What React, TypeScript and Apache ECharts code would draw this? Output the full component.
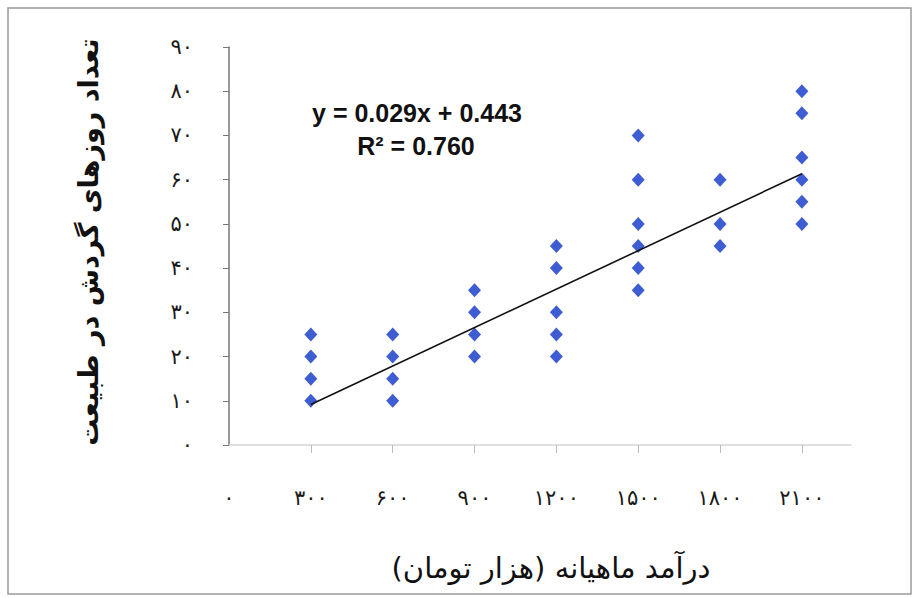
import React, { useEffect, useRef } from "react";
import * as echarts from "echarts";

// Monthly income (thousand toman) per respondent
const incomeX = [
  300, 300, 300, 300,
  600, 600, 600, 600,
  900, 900, 900, 900,
  1200, 1200, 1200, 1200, 1200,
  1500, 1500, 1500, 1500, 1500, 1500,
  1800, 1800, 1800,
  2100, 2100, 2100, 2100, 2100, 2100,
];
// Days spent outdoors in nature
const daysY = [
  25, 20, 15, 10,
  25, 20, 15, 10,
  35, 30, 25, 20,
  45, 40, 30, 25, 20,
  70, 60, 50, 45, 40, 35,
  60, 50, 45,
  80, 75, 65, 60, 55, 50,
];

const trendSlope = 0.029;
const trendIntercept = 0.443;
const trendRange = [300, 2100];

const xTickValues = [300, 600, 900, 1200, 1500, 1800, 2100];
const xLabelValues = [0, 300, 600, 900, 1200, 1500, 1800, 2100];
const yTickValues = [0, 10, 20, 30, 40, 50, 60, 70, 80, 90];

const equationText = "y = 0.029x + 0.443";
const r2Text = "R² = 0.760";
const xTitle = "درآمد ماهیانه (هزار تومان)";
const yTitle = "تعداد روزهای گردش در طبیعت";

const faDigits = "۰۱۲۳۴۵۶۷۸۹";
const toFa = (v: number) => String(v).replace(/\d/g, (d) => faDigits[+d]);

export default function App() {
  const ref = useRef<HTMLDivElement>(null);
  useEffect(() => {
    document.body.style.margin = "0";
    if (!ref.current) return;
    const chart = echarts.init(ref.current, null, { renderer: "svg" });
    const points = incomeX.map((x, i) => [x, daysY[i]]);
    const trend = trendRange.map((x) => [x, trendSlope * x + trendIntercept]);
    chart.setOption({
      animation: false,
      backgroundColor: "#ffffff",
      grid: { left: 229, top: 47, right: 70, bottom: 153, containLabel: false },
      xAxis: {
        type: "value",
        min: 0,
        max: 2280,
        splitLine: { show: false },
        axisLine: { show: true, lineStyle: { color: "#d4d4d4", width: 1.5 } },
        axisTick: {
          show: true,
          customValues: xTickValues,
          length: 8,
          lineStyle: { color: "#bdbdbd", width: 1 },
        },
        axisLabel: {
          customValues: xLabelValues,
          margin: 42,
          color: "#1a1a1a",
          fontSize: 21,
          fontFamily: "DejaVu Sans",
          formatter: (v: number) => toFa(v),
        },
      },
      yAxis: {
        type: "value",
        min: 0,
        max: 90,
        splitLine: { show: false },
        axisLine: { show: true, lineStyle: { color: "#777", width: 1.5 } },
        axisTick: {
          show: true,
          customValues: yTickValues,
          length: 6,
          lineStyle: { color: "#777", width: 1 },
        },
        axisLabel: {
          customValues: yTickValues,
          margin: 36,
          color: "#1a1a1a",
          fontSize: 21,
          fontFamily: "DejaVu Sans",
          formatter: (v: number) => toFa(v),
        },
      },
      series: [
        {
          type: "scatter",
          data: points,
          symbol: "diamond",
          symbolSize: [13, 14],
          itemStyle: { color: "#0f35c8" },
          z: 3,
        },
        {
          type: "line",
          data: trend,
          symbol: "none",
          lineStyle: { color: "#111", width: 1.6 },
          z: 4,
        },
      ],
      graphic: [
        {
          type: "rect",
          shape: { x: 8, y: 8, width: 903, height: 586 },
          style: { fill: "none", stroke: "#9a9a9a", lineWidth: 1.5 },
        },
        {
          type: "text",
          x: 417,
          y: 113,
          style: {
            text: equationText,
            fill: "#111",
            font: "bold 25px 'Liberation Sans Narrow', 'Liberation Sans', sans-serif",
            textAlign: "center",
            textVerticalAlign: "middle",
          },
        },
        {
          type: "text",
          x: 416,
          y: 146,
          style: {
            text: r2Text,
            fill: "#111",
            font: "bold 25px 'Liberation Sans Narrow', 'Liberation Sans', sans-serif",
            textAlign: "center",
            textVerticalAlign: "middle",
          },
        },
        {
          type: "text",
          x: 88,
          y: 242,
          rotation: Math.PI / 2,
          style: {
            text: yTitle,
            fill: "#111",
            font: "bold 27px 'DejaVu Sans', sans-serif",
            textAlign: "center",
            textVerticalAlign: "middle",
          },
        },
        {
          type: "text",
          x: 551,
          y: 568,
          style: {
            text: xTitle,
            fill: "#111",
            font: "29px 'DejaVu Sans', sans-serif",
            textAlign: "center",
            textVerticalAlign: "middle",
          },
        },
      ],
    });
    return () => chart.dispose();
  }, []);
  return <div ref={ref} style={{ width: 921, height: 598 }} />;
}
